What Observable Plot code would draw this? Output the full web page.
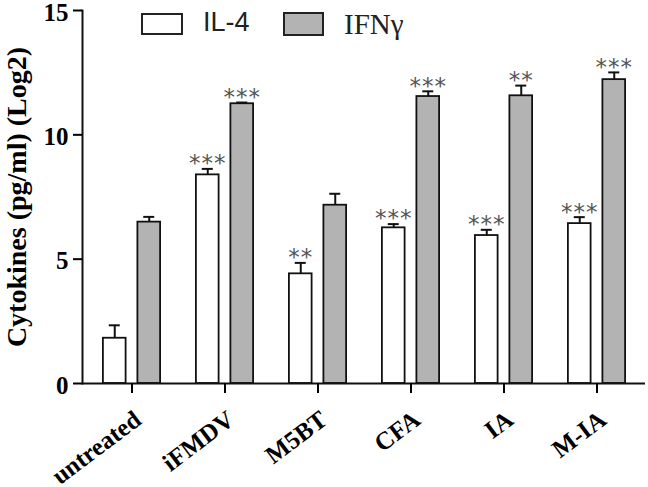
<!DOCTYPE html>
<html>
<head>
<meta charset="utf-8">
<script src="https://cdn.jsdelivr.net/npm/d3@7"></script>
<script src="https://cdn.jsdelivr.net/npm/@observablehq/plot@0.6"></script>
<style>
  body { margin: 0; background: white; }
  #wrap { position: relative; width: 648px; height: 487px; }
  .legend { position: absolute; top: 0; left: 0; }
  .sw { position: absolute; box-sizing: border-box; border: 2px solid #222; }
  .lt { position: absolute; line-height: 1; color: #222; white-space: nowrap; }
  svg text { font-family: "Liberation Serif", serif; }
  g[aria-label="y-axis tick label"] text { font-size: 25px; font-weight: bold; }
  g[aria-label="x-axis tick label"] text { font-size: 25px; font-weight: bold; }
  g[aria-label="y-axis label"] text { font-size: 28px; font-weight: bold; }
  g[aria-label="text"] text { font-family: "DejaVu Sans", sans-serif; font-size: 23px; letter-spacing: 1px; }
</style>
</head>
<body>
<div id="wrap"></div>
<script>
const categories = ["untreated", "iFMDV", "M5BT", "CFA", "IA", "M-IA"];
const seriesNames = ["IL-4", "IFNγ"];
const il4 = [1.82, 8.39, 4.41, 6.26, 5.95, 6.43];
const il4Err = [0.52, 0.24, 0.44, 0.15, 0.23, 0.26];
const ifn = [6.49, 11.25, 7.17, 11.54, 11.57, 12.22];
const ifnErr = [0.21, 0.05, 0.46, 0.21, 0.41, 0.29];
const il4Sig = ["", "***", "**", "***", "***", "***"];
const ifnSig = ["", "***", "", "***", "**", "***"];
const yTicks = [0, 5, 10, 15];

const rows = categories.flatMap((c, i) => [
  {cat: c, series: seriesNames[0], value: il4[i], top: il4[i] + il4Err[i], sig: il4Sig[i]},
  {cat: c, series: seriesNames[1], value: ifn[i], top: ifn[i] + ifnErr[i], sig: ifnSig[i]}
]);
const A = rows.filter(d => d.series === seriesNames[0]);
const B = rows.filter(d => d.series === seriesNames[1]);

const off = 17.25;
const chart = Plot.plot({
  width: 648, height: 487,
  marginLeft: 82, marginRight: 3, marginTop: 10, marginBottom: 104,
  x: {domain: categories, padding: 0},
  y: {domain: [0, 15]},
  style: {background: "white", color: "black"},
  marks: [
    Plot.barY(A, {x: "cat", y: "value", fill: "white", stroke: "#111", strokeWidth: 1.8, insetLeft: 17.9, insetRight: 52.4}),
    Plot.barY(B, {x: "cat", y: "value", fill: "#b3b3b3", stroke: "#111", strokeWidth: 1.8, insetLeft: 52.4, insetRight: 17.9}),
    Plot.ruleX(A, {x: "cat", y1: "value", y2: "top", dx: -off, stroke: "#111", strokeWidth: 2}),
    Plot.ruleX(B, {x: "cat", y1: "value", y2: "top", dx: off, stroke: "#111", strokeWidth: 2}),
    Plot.tickY(A, {x: "cat", y: "top", dx: -off, insetLeft: 41, insetRight: 41, stroke: "#111", strokeWidth: 2}),
    Plot.tickY(B, {x: "cat", y: "top", dx: off, insetLeft: 41, insetRight: 41, stroke: "#111", strokeWidth: 2}),
    Plot.text(A, {x: "cat", y: "top", text: "sig", dx: -off, dy: -5, fill: "#555"}),
    Plot.text(B, {x: "cat", y: "top", text: "sig", dx: off, dy: -5, fill: "#555"}),
    Plot.ruleY([0], {stroke: "#111", strokeWidth: 2}),
    Plot.frame({anchor: "left", stroke: "#111", strokeWidth: 2}),
    Plot.axisY({ticks: yTicks, tickSize: 9, text: null, strokeWidth: 2, label: null}),
    Plot.axisY({ticks: yTicks, tickSize: 0, tickPadding: 14, dy: 2, label: "Cytokines (pg/ml) (Log2)", labelAnchor: "center", labelArrow: "none", labelOffset: 76}),
    Plot.axisX({tickSize: 10, text: null, strokeWidth: 2, label: null}),
    Plot.axisX({tickSize: 0, tickPadding: 14, tickRotate: -37, dx: 6, dy: 19, label: null})
  ]
});
const wrap = document.getElementById("wrap");
wrap.appendChild(chart);

const legend = document.createElement("div");
legend.className = "legend";
legend.innerHTML = `
  <div class="sw" style="left:141px;top:13px;width:42px;height:22px;background:white"></div>
  <div class="lt" style="left:203px;top:9px;font-family:'Liberation Sans';font-size:27px">${seriesNames[0]}</div>
  <div class="sw" style="left:283px;top:12px;width:41px;height:24px;background:#b3b3b3"></div>
  <div class="lt" style="left:344px;top:10px;font-family:'Liberation Serif';font-size:29px">${seriesNames[1]}</div>`;
wrap.appendChild(legend);
</script>
</body>
</html>
